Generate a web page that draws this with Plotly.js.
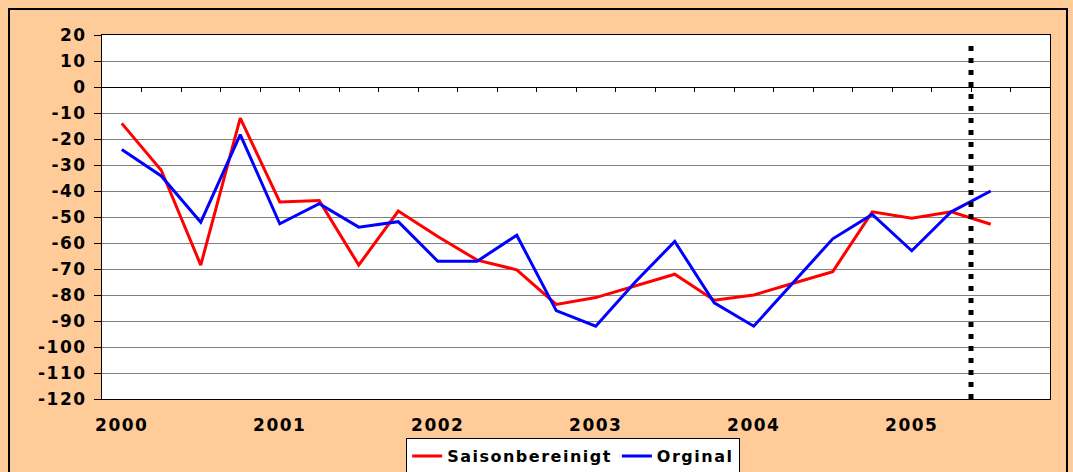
<!DOCTYPE html>
<html>
<head>
<meta charset="utf-8">
<script src="https://cdn.plot.ly/plotly-3.0.1.min.js"></script>
<style>
  html, body { margin: 0; padding: 0; background: #FFCC99; }
  #chart { width: 1073px; height: 472px; }
  svg text { letter-spacing: 1.5px; }
</style>
</head>
<body>
<div id="chart"></div>
<script>
// ---- data ----
const quarters = [
  "2000Q1","2000Q2","2000Q3","2000Q4",
  "2001Q1","2001Q2","2001Q3","2001Q4",
  "2002Q1","2002Q2","2002Q3","2002Q4",
  "2003Q1","2003Q2","2003Q3","2003Q4",
  "2004Q1","2004Q2","2004Q3","2004Q4",
  "2005Q1","2005Q2","2005Q3"
];
const allCategories = quarters.concat(["2005Q4"]);
const saisonbereinigt = [-14, -32, -68.5, -12, -44.2, -43.7, -68.5, -47.7, -57.5, -66.6, -70.3, -83.6,
                         -81, -76.5, -72, -82, -80, -75.5, -71, -48, -50.5, -48, -52.8];
const orginal = [-24, -34.2, -52, -18.3, -52.6, -44.9, -53.9, -51.8, -67, -67, -57, -86,
                 -92, -75, -59.4, -83, -92, -75, -58.4, -49, -63, -48, -40];
const yearTickCats = ["2000Q1","2001Q1","2002Q1","2003Q1","2004Q1","2005Q1"];
const yearLabels = ["2000","2001","2002","2003","2004","2005"];
const yTicks = [20,10,0,-10,-20,-30,-40,-50,-60,-70,-80,-90,-100,-110,-120];
const yTickText = yTicks.map(v => String(v));
const forecastBoundary = 21.5;   // between 2005Q2 and 2005Q3
const forecastLineTop = 16.5;

// ---- chart ----
const FONT = "DejaVu Sans, sans-serif";
const boundaries = [];
for (let i = 0; i < allCategories.length - 1; i++) boundaries.push(i + 0.5);

const traces = [
  { x: quarters, y: saisonbereinigt, type: "scatter", mode: "lines", name: "Saisonbereinigt",
    line: { color: "#FF0000", width: 3 }, hoverinfo: "x+y" },
  { x: quarters, y: orginal, type: "scatter", mode: "lines", name: "Orginal",
    line: { color: "#0000FF", width: 3 }, hoverinfo: "x+y" },
  { x: [], y: [], xaxis: "x2", yaxis: "y", type: "scatter", mode: "lines", showlegend: false, hoverinfo: "skip" }
];

const layout = {
  width: 1073, height: 472,
  margin: { l: 102, r: 23, t: 35, b: 73, pad: 0, autoexpand: false },
  paper_bgcolor: "#FFCC99",
  plot_bgcolor: "#FFFFFF",
  font: { family: FONT, size: 17, color: "#000000", weight: "bold" },
  showlegend: true,
  legend: {
    orientation: "h", x: 0.497, xanchor: "center", y: -0.1071, yanchor: "top",
    bgcolor: "#FFFFFF", bordercolor: "#000000", borderwidth: 1,
    font: { family: FONT, size: 16, color: "#000000", weight: "bold" },
    itemwidth: 30, tracegroupgap: 0
  },
  xaxis: {
    type: "category", categoryorder: "array", categoryarray: allCategories,
    range: [-0.5, allCategories.length - 0.5],
    tickmode: "array", tickvals: yearTickCats, ticktext: yearLabels,
    ticks: "", ticklabelstandoff: 11,
    showgrid: false, zeroline: false,
    showline: true, linecolor: "#000000", linewidth: 1, mirror: true,
    tickfont: { family: FONT, size: 17, color: "#000000", weight: "bold" },
    fixedrange: true
  },
  xaxis2: {
    type: "linear", overlaying: "x", anchor: "free",
    position: (0 - (-120)) / (20 - (-120)),
    range: [-0.5, allCategories.length - 0.5],
    tickmode: "array", tickvals: boundaries, showticklabels: false,
    ticks: "outside", ticklen: 4, tickwidth: 1, tickcolor: "#000000",
    showgrid: false, zeroline: false,
    showline: true, linecolor: "#000000", linewidth: 1, side: "bottom",
    fixedrange: true
  },
  yaxis: {
    range: [-120, 20],
    tickmode: "array", tickvals: yTicks, ticktext: yTickText,
    ticks: "outside", ticklen: 7, tickwidth: 1, tickcolor: "#000000",
    ticklabelstandoff: 4,
    showgrid: true, gridcolor: "#808080", gridwidth: 1,
    zeroline: false,
    showline: true, linecolor: "#000000", linewidth: 1, mirror: true,
    tickfont: { family: FONT, size: 17, color: "#000000", weight: "bold" },
    fixedrange: true
  },
  shapes: [
    { type: "line", xref: "x", yref: "y",
      x0: forecastBoundary, x1: forecastBoundary, y0: -120, y1: forecastLineTop,
      line: { color: "#000000", width: 5, dash: "5px,7px" }, layer: "above" },
    { type: "rect", xref: "paper", yref: "paper",
      x0: (9 - 102) / 948, x1: (1067 - 102) / 948, y0: -0.4, y1: (399 - 9) / 364,
      line: { color: "#000000", width: 2 }, fillcolor: "rgba(0,0,0,0)", layer: "above" }
  ]
};

Plotly.newPlot("chart", traces, layout, { displayModeBar: false, staticPlot: true });
</script>
</body>
</html>
